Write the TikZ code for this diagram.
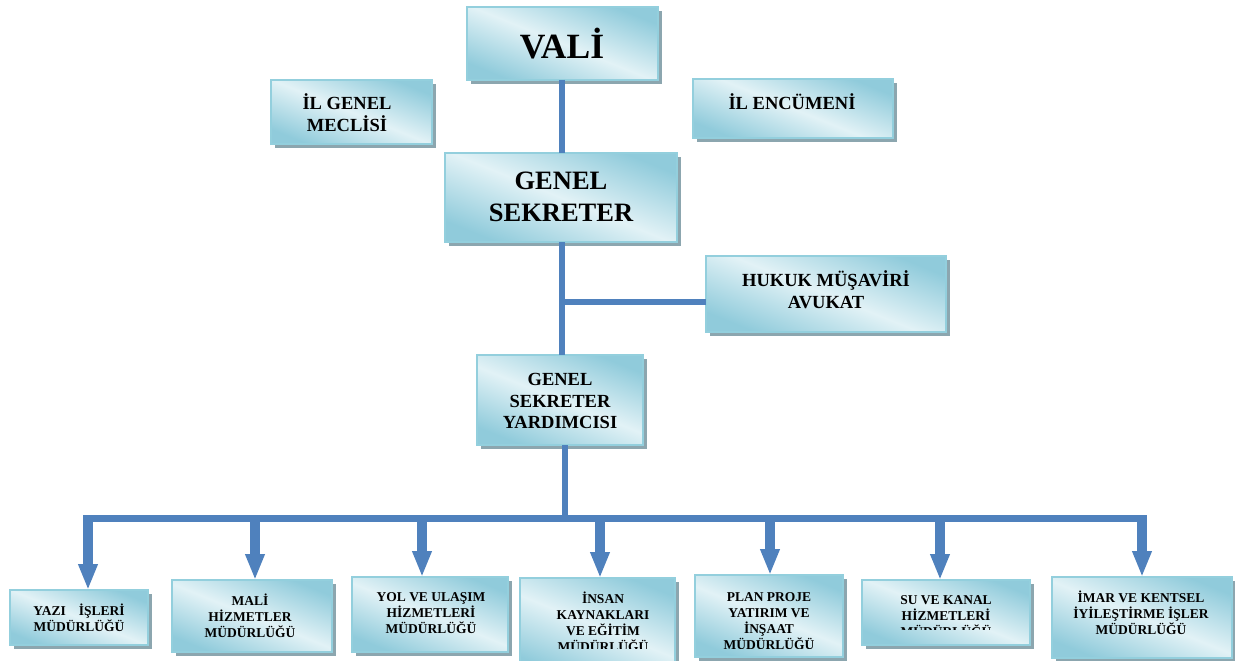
\documentclass[tikz,border=0pt]{standalone}
\usepackage{fontspec}
\setmainfont{Liberation Serif}
\usetikzlibrary{arrows.meta,shadows}
\definecolor{boxdark}{HTML}{90CBDB}
\definecolor{boxlight}{HTML}{E2F2F6}
\definecolor{boxline}{HTML}{93CFDD}
\definecolor{shadowc}{HTML}{8CA6AF}
\definecolor{linkc}{HTML}{4F81BD}
\tikzset{
  orgbox/.style={draw=boxline, line width=2pt, top color=boxdark, bottom color=boxdark,
    middle color=boxlight, shading angle=-22,
    drop shadow={shadow xshift=4pt, shadow yshift=-4pt, fill=shadowc, opacity=1},
    inner sep=0pt, outer sep=0pt},
  txt/.style={align=center, inner sep=0pt, text=black},
  bigtxt/.style={txt, font=\bfseries\fontsize{35.5}{40}\selectfont},
  gstxt/.style={txt, font=\bfseries\fontsize{26.5}{32}\selectfont},
  midtxt/.style={txt, font=\bfseries\fontsize{18.5}{21.8}\selectfont},
  smalltxt/.style={txt, font=\bfseries\fontsize{13.5}{16}\selectfont},
  conn/.style={draw=linkc, line width=6.5pt},
  barline/.style={draw=linkc, line width=7pt},
  fatarrow/.style={draw=linkc, fill=linkc, line width=10pt, -{Triangle[width=18pt,length=26pt]}}
}
\begin{document}
\begin{tikzpicture}[x=1pt,y=-1pt]
\useasboundingbox (0,0) rectangle (1235,661);
\clip (0,0) rectangle (1235,661);
% boxes
\node[orgbox, minimum width=191pt, minimum height=73pt] (vali) at (562.5,43.5) {};
\node[orgbox, minimum width=161pt, minimum height=64pt] (igm) at (351.5,112) {};
\node[orgbox, minimum width=200pt, minimum height=59pt] (enc) at (793,108.5) {};
\node[orgbox, minimum width=232pt, minimum height=89pt] (gs) at (561,197.5) {};
\node[orgbox, minimum width=240pt, minimum height=76pt] (huk) at (826,294) {};
\node[orgbox, minimum width=166pt, minimum height=90pt] (gsy) at (560,400) {};
\node[orgbox, minimum width=138pt, minimum height=55pt] (yazi) at (79,617.5) {};
\node[orgbox, minimum width=160pt, minimum height=72pt] (mali) at (252,616) {};
\node[orgbox, minimum width=156pt, minimum height=75pt] (yol) at (430,614.5) {};
\node[orgbox, minimum width=155pt, minimum height=97pt] (insan) at (597.5,626.5) {};
\node[orgbox, minimum width=148pt, minimum height=82pt] (plan) at (769,616) {};
\node[orgbox, minimum width=168pt, minimum height=65pt] (su) at (946,612.5) {};
\node[orgbox, minimum width=180pt, minimum height=81pt] (imar) at (1142,617.5) {};
% texts
\node[bigtxt] (t-vali) at (562,44) {VALİ};
\node[midtxt] (t-igm) at (347,113) {İL GENEL\\MECLİSİ};
\node[midtxt] (t-enc) at (792,102) {İL ENCÜMENİ};
\node[gstxt] (t-gs) at (561,197) {GENEL\\SEKRETER};
\node[midtxt] (t-huk) at (826,290) {HUKUK MÜŞAVİRİ\\AVUKAT};
\node[midtxt] (t-gsy) at (560,401) {GENEL\\SEKRETER\\YARDIMCISI};
\node[smalltxt] (t-yazi) at (79,618) {YAZI\hspace{13pt}İŞLERİ\\MÜDÜRLÜĞÜ};
\node[smalltxt] (t-mali) at (250,616) {MALİ\\HİZMETLER\\MÜDÜRLÜĞÜ};
\node[smalltxt] (t-yol) at (431,613) {YOL VE ULAŞIM\\HİZMETLERİ\\MÜDÜRLÜĞÜ};
\begin{scope}
\clip (520,570) rectangle (675,648);
\node[smalltxt] (t-insan) at (603,622) {İNSAN\\KAYNAKLARI\\VE EĞİTİM\\MÜDÜRLÜĞÜ};
\end{scope}
\begin{scope}
\clip (695,570) rectangle (843,648);
\node[smalltxt] (t-plan) at (769,621) {PLAN PROJE\\YATIRIM VE\\İNŞAAT\\MÜDÜRLÜĞÜ};
\end{scope}
\begin{scope}
\clip (862,570) rectangle (1030,629);
\node[smalltxt] (t-su) at (946,616) {SU VE KANAL\\HİZMETLERİ\\MÜDÜRLÜĞÜ};
\end{scope}
\node[smalltxt] (t-imar) at (1141,613) {İMAR VE KENTSEL\\İYİLEŞTİRME İŞLER\\MÜDÜRLÜĞÜ};
% connectors
\coordinate (v) at (562,0);
\coordinate (h) at (562,302);
\coordinate (jn) at (565,518);
\draw[conn] (v |- vali.south) -- (v |- gs.north);
\draw[conn] (v |- gs.south) -- (v |- gsy.north);
\draw[conn] (h) -- (h -| huk.west);
\draw[conn] (jn |- gsy.south) -- (jn);
\coordinate (b1) at (88,518);
\coordinate (b2) at (255,518);
\coordinate (b3) at (422,518);
\coordinate (b4) at (600,518);
\coordinate (b5) at (770,518);
\coordinate (b6) at (940,518);
\coordinate (b7) at (1142,518);
\draw[barline] ([xshift=-5pt]b1) -- ([xshift=5pt]b7);
\draw[fatarrow] ([yshift=-3pt]b1) -- (b1 |- yazi.north);
\draw[fatarrow] ([yshift=-3pt]b2) -- (b2 |- mali.north);
\draw[fatarrow] ([yshift=-3pt]b3) -- (b3 |- yol.north);
\draw[fatarrow] ([yshift=-3pt]b4) -- (b4 |- insan.north);
\draw[fatarrow] ([yshift=-3pt]b5) -- (b5 |- plan.north);
\draw[fatarrow] ([yshift=-3pt]b6) -- (b6 |- su.north);
\draw[fatarrow] ([yshift=-3pt]b7) -- (b7 |- imar.north);
\end{tikzpicture}
\end{document}
